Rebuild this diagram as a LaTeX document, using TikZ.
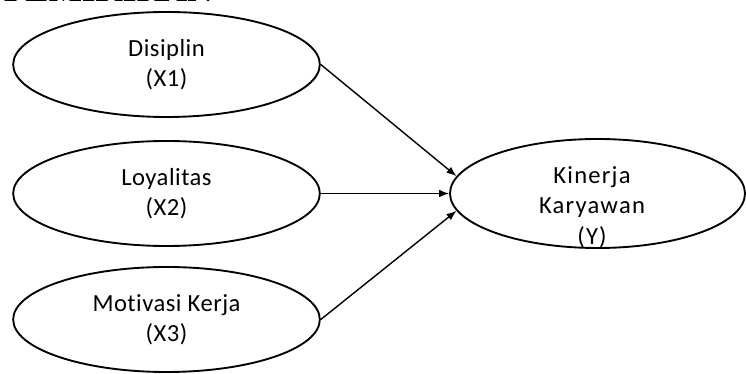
\documentclass[tikz,border=0pt]{standalone}
\usepackage{fontspec}
\setmainfont{Carlito}[Ligatures=NoCommon, LetterSpace=2]
\newfontfamily\headfont{Liberation Serif}
\newfontfamily\widefont{Carlito}[Ligatures=NoCommon, LetterSpace=5]
\usetikzlibrary{arrows.meta,positioning,shapes.geometric}

\begin{document}
\begin{tikzpicture}[
    x=0.03cm, y=-0.03cm,
    var/.style={draw, ellipse, line width=1.6pt, inner sep=0pt,
      minimum width=9.2cm, minimum height=3.15cm},
    txt/.style={align=center, font=\fontsize{21}{25.5}\selectfont},
    arr/.style={-{Latex[length=3mm, width=2.3mm]}, line width=1.2pt}
  ]
    \useasboundingbox (0,0) rectangle (746,374);

    % cut heading at the top
    \begin{scope}
      \clip (0,0) rectangle (746,374);
      \node[anchor=base east, inner sep=0pt,
        font=\headfont\bfseries\fontsize{30}{30}\selectfont] (head) at (213,2) {PEMIKIRAN};
    \end{scope}

    % Independent variables
    \node[var, txt] (x1) at (166.5, 64.5)  {Disiplin\\(X1)};
    \node[var, txt] (x2) at (166.5, 193.5) {Loyalitas\\(X2)};
    \node[var, txt] (x3) at (166.5, 319.5) {Motivasi Kerja\\(X3)};

    % Dependent variable
    \node[var, minimum width=8.85cm, minimum height=3.27cm] (y) at (597.5, 193.5) {};
    \node[txt, font=\widefont\fontsize{21}{26}\selectfont] (ylab) at (592, 207) {Kinerja\\Karyawan\\(Y)};

    % Arrows
    \draw[arr] (x1.east) -- (y.173);
    \draw[arr] (x2.east) -- (y.west);
    \draw[arr] (x3.east) -- (y.187);
\end{tikzpicture}
\end{document}
